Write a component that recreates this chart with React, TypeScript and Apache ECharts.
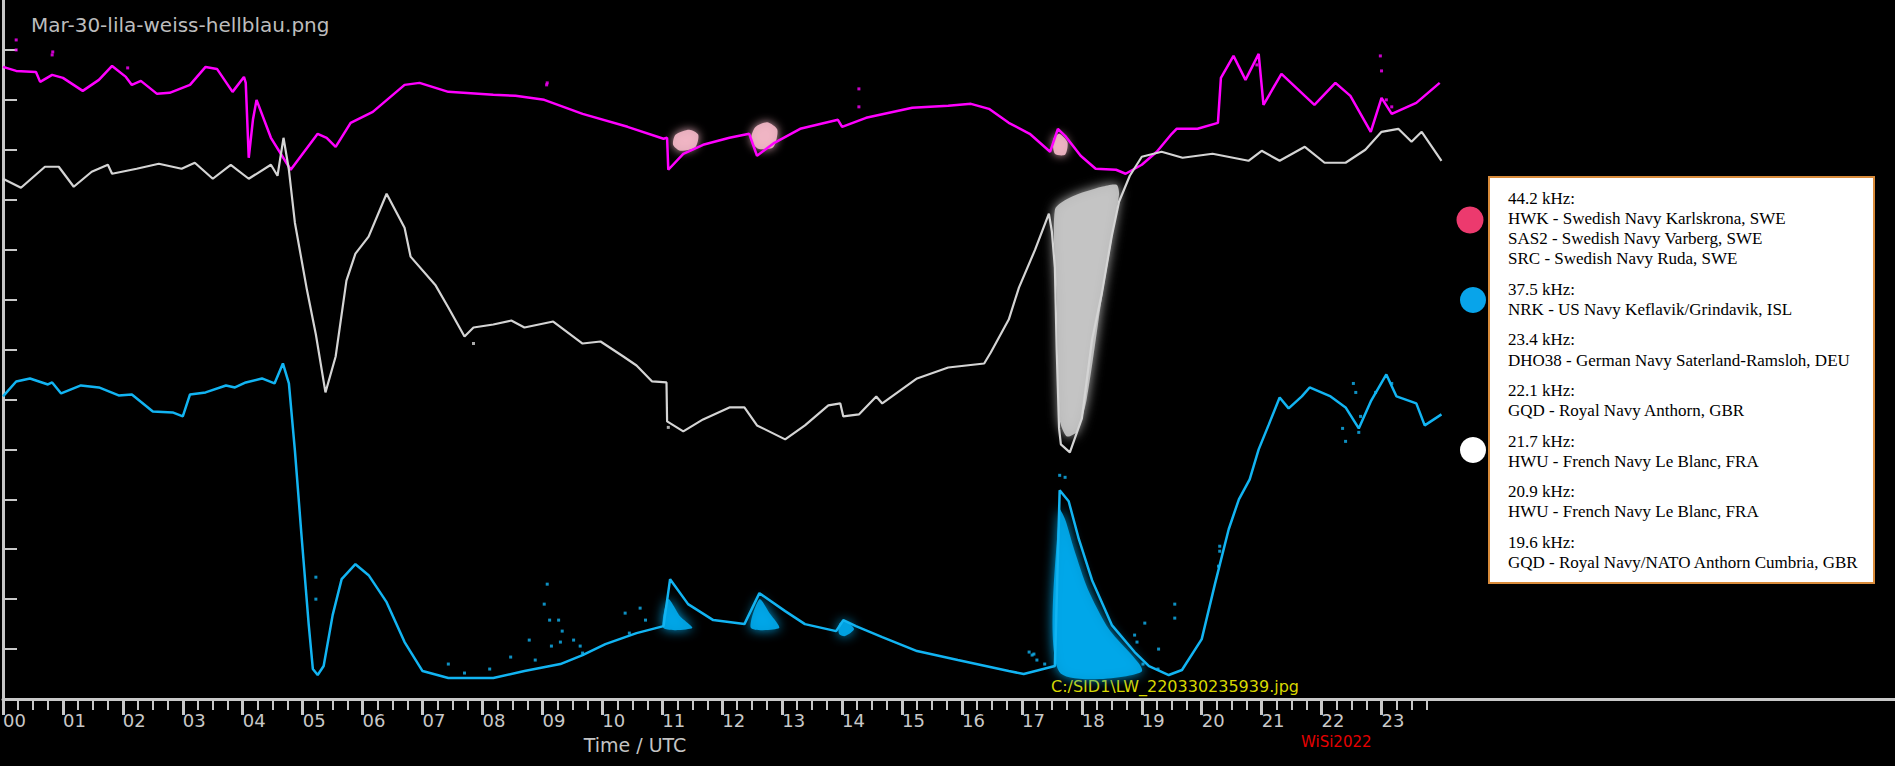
import React, { useEffect, useRef } from 'react';
import * as echarts from 'echarts';

// hour tick labels on the time axis
const hourLabels = ['00', '01', '02', '03', '04', '05', '06', '07', '08', '09', '10', '11',
  '12', '13', '14', '15', '16', '17', '18', '19', '20', '21', '22', '23'];
// unlabelled signal ticks on the left axis
const signalTicks = [1, 2, 3, 4, 5, 6, 7, 8, 9, 10, 11, 12, 13];

// 44.2 kHz trace (magenta) [hour UTC, signal]
const magentaTrace = [
  [0.00, 12.66], [0.22, 12.58], [0.55, 12.56], [0.62, 12.36], [0.82, 12.50], [1.00, 12.44],
  [1.33, 12.18], [1.60, 12.40], [1.82, 12.68], [2.05, 12.46], [2.15, 12.30], [2.30, 12.38],
  [2.57, 12.12], [2.78, 12.14], [3.12, 12.30], [3.38, 12.66], [3.57, 12.62], [3.83, 12.16],
  [4.02, 12.46], [4.05, 12.34], [4.10, 10.84], [4.17, 11.60], [4.23, 12.00], [4.47, 11.24],
  [4.80, 10.60], [5.25, 11.32], [5.40, 11.24], [5.55, 11.06], [5.80, 11.54], [6.17, 11.76],
  [6.70, 12.30], [6.95, 12.34], [7.43, 12.16], [8.18, 12.10], [8.55, 12.08], [9.03, 12.00],
  [9.67, 11.72], [10.42, 11.46], [11.02, 11.22], [11.08, 11.24], [11.10, 10.60], [11.35, 10.92],
  [11.68, 11.10], [12.12, 11.24], [12.45, 11.32], [12.58, 10.88], [12.87, 11.14], [13.30, 11.42],
  [13.93, 11.60], [14.00, 11.46], [14.40, 11.64], [15.17, 11.84], [15.77, 11.88], [16.15, 11.92],
  [16.45, 11.82], [16.78, 11.54], [17.13, 11.32], [17.47, 10.96], [17.60, 11.42], [17.72, 11.28],
  [17.98, 10.88], [18.23, 10.62], [18.57, 10.60], [18.73, 10.52], [19.00, 10.70], [19.25, 10.96],
  [19.50, 11.32], [19.58, 11.42], [19.93, 11.42], [20.27, 11.54], [20.32, 12.44], [20.53, 12.88],
  [20.73, 12.40], [20.95, 12.92], [21.03, 11.90], [21.33, 12.52], [21.88, 11.90], [22.23, 12.34],
  [22.48, 12.08], [22.82, 11.36], [23.00, 12.04], [23.17, 11.72], [23.58, 11.94], [23.97, 12.34],
];
const magentaOutliers = [
  [0.22, 13.2], [0.22, 13.0], [0.83, 12.96], [0.82, 12.9], [2.08, 12.64], [9.07, 12.3],
  [9.08, 12.34], [14.28, 12.22], [14.28, 11.86], [20.92, 12.7], [22.98, 12.88], [23.0, 12.58],
  [23.08, 12.0], [23.17, 11.86],
];

// 21.7 kHz trace (white / grey)
const grayTrace = [
  [0.00, 10.42], [0.30, 10.24], [0.70, 10.66], [0.93, 10.66], [1.18, 10.26], [1.48, 10.56],
  [1.75, 10.70], [1.82, 10.52], [2.23, 10.62], [2.60, 10.72], [2.98, 10.62], [3.20, 10.74],
  [3.50, 10.42], [3.80, 10.70], [4.10, 10.42], [4.47, 10.70], [4.58, 10.48], [4.68, 11.24],
  [4.77, 10.60], [4.87, 9.54], [5.07, 8.20], [5.22, 7.30], [5.38, 6.14], [5.55, 6.86],
  [5.73, 8.38], [5.88, 8.92], [6.10, 9.26], [6.40, 10.12], [6.70, 9.44], [6.80, 8.86],
  [7.22, 8.28], [7.43, 7.84], [7.70, 7.26], [7.85, 7.44], [8.18, 7.50], [8.48, 7.58],
  [8.70, 7.44], [9.18, 7.56], [9.67, 7.12], [9.97, 7.16], [10.35, 6.86], [10.57, 6.68],
  [10.83, 6.36], [11.07, 6.34], [11.08, 5.56], [11.35, 5.36], [11.68, 5.60], [12.12, 5.84],
  [12.37, 5.84], [12.58, 5.48], [13.05, 5.20], [13.38, 5.48], [13.77, 5.88], [13.97, 5.92],
  [14.02, 5.66], [14.28, 5.70], [14.57, 6.06], [14.67, 5.92], [15.25, 6.42], [15.77, 6.64],
  [16.37, 6.72], [16.48, 6.94], [16.78, 7.60], [16.95, 8.24], [17.22, 9.00], [17.45, 9.72],
  [17.50, 9.36], [17.55, 8.64], [17.58, 7.00], [17.62, 5.42], [17.65, 5.10], [17.80, 4.94],
  [18.00, 5.62], [18.17, 7.20], [18.33, 8.10], [18.50, 9.28], [18.62, 9.96], [18.80, 10.48],
  [19.00, 10.86], [19.33, 10.96], [19.68, 10.84], [20.18, 10.92], [20.78, 10.78], [21.00, 10.98],
  [21.30, 10.78], [21.72, 11.06], [22.05, 10.74], [22.40, 10.74], [22.73, 11.00], [23.00, 11.36],
  [23.28, 11.42], [23.50, 11.16], [23.67, 11.36], [24.00, 10.78],
];
const grayOutliers = [[7.85, 7.12], [11.1, 5.44]];

// 37.5 kHz trace (light blue)
const blueTrace = [
  [0.00, 6.06], [0.22, 6.36], [0.45, 6.42], [0.75, 6.30], [0.82, 6.34], [0.97, 6.12],
  [1.30, 6.28], [1.60, 6.24], [1.93, 6.08], [2.15, 6.10], [2.50, 5.76], [2.83, 5.74],
  [3.00, 5.66], [3.12, 6.10], [3.38, 6.14], [3.72, 6.28], [3.87, 6.24], [4.05, 6.34],
  [4.32, 6.42], [4.53, 6.32], [4.67, 6.72], [4.77, 6.32], [4.87, 4.98], [4.98, 3.28],
  [5.10, 1.50], [5.17, 0.60], [5.25, 0.48], [5.35, 0.66], [5.50, 1.68], [5.65, 2.40],
  [5.88, 2.70], [6.10, 2.48], [6.40, 1.94], [6.70, 1.14], [7.00, 0.56], [7.43, 0.42],
  [8.18, 0.42], [8.70, 0.56], [9.30, 0.70], [9.67, 0.88], [10.05, 1.10], [10.57, 1.32],
  [11.02, 1.46], [11.13, 2.40], [11.43, 1.90], [11.85, 1.58], [12.37, 1.50], [12.62, 2.12],
  [13.05, 1.76], [13.38, 1.50], [13.90, 1.36], [14.02, 1.58], [14.23, 1.46], [14.67, 1.24],
  [15.25, 0.96], [15.93, 0.78], [16.78, 0.56], [17.03, 0.50], [17.55, 0.66], [17.63, 4.18],
  [17.78, 3.96], [17.95, 3.20], [18.17, 2.38], [18.50, 1.48], [18.88, 0.94], [19.12, 0.66],
  [19.45, 0.48], [19.67, 0.58], [20.00, 1.20], [20.22, 2.30], [20.45, 3.40], [20.62, 4.00],
  [20.80, 4.40], [20.95, 5.00], [21.12, 5.50], [21.30, 6.04], [21.45, 5.82], [21.67, 6.06],
  [21.80, 6.24], [22.15, 6.06], [22.40, 5.84], [22.62, 5.42], [22.82, 5.96], [23.08, 6.50],
  [23.25, 6.06], [23.58, 5.92], [23.72, 5.48], [24.00, 5.70],
];
const blueOutliers = [
  [5.22, 2.44], [5.22, 2.0], [7.43, 0.7], [7.7, 0.52], [8.12, 0.6], [8.47, 0.84], [8.78, 1.18],
  [8.88, 0.78], [9.03, 1.9], [9.08, 2.3], [9.12, 1.58], [9.15, 1.06], [9.27, 1.58], [9.33, 1.36],
  [9.3, 1.14], [9.52, 1.18], [9.63, 1.06], [9.67, 0.92], [10.38, 1.72], [10.63, 1.82],
  [10.72, 1.58], [10.45, 1.32], [17.12, 0.94], [17.17, 0.88], [17.2, 0.9], [17.25, 0.78],
  [17.38, 0.7], [17.63, 4.48], [17.72, 4.44], [18.88, 1.28], [18.92, 1.14], [19.02, 0.7],
  [19.05, 1.52], [19.27, 0.6], [19.28, 1.0], [19.55, 1.9], [19.55, 1.62], [20.3, 3.06],
  [20.3, 2.96], [20.28, 2.66], [22.35, 5.42], [22.4, 5.16], [22.53, 6.32], [22.57, 6.14],
  [22.62, 5.34], [22.65, 5.66], [22.9, 6.14], [23.17, 6.32],
];

// hand-painted flare marks, outlines in [hour, signal]
const pinkBlobs = [
  [[11.18, 11.1], [11.22, 11.3], [11.45, 11.4], [11.6, 11.3], [11.55, 11.05], [11.3, 10.98]],
  [[12.48, 11.2], [12.55, 11.45], [12.75, 11.55], [12.92, 11.4], [12.85, 11.05], [12.6, 11.02]],
  [[17.52, 11.2], [17.62, 11.32], [17.76, 11.15], [17.72, 10.9], [17.55, 10.92]],
];
const grayBlobs = [
  [[17.55, 9.8], [17.83, 10.06], [18.33, 10.26], [18.58, 10.3], [18.62, 10.1], [18.33, 8.0],
    [18.08, 6.0], [17.92, 5.36], [17.75, 5.26], [17.63, 5.6], [17.58, 8.0]],
];
const blueBlobs = [
  [[11.1, 2.0], [11.3, 1.65], [11.5, 1.42], [11.02, 1.42]],
  [[12.62, 2.0], [12.8, 1.7], [12.95, 1.42], [12.48, 1.42]],
  [[13.95, 1.5], [14.05, 1.56], [14.2, 1.4], [14.05, 1.26], [13.95, 1.3]],
  [[17.62, 3.8], [17.72, 3.6], [17.87, 3.0], [18.1, 2.2], [18.45, 1.4], [19.0, 0.55], [17.62, 0.55]],
];

// station list in the legend box
const legendGroups = [
  ['44.2 kHz:', 'HWK - Swedish Navy Karlskrona, SWE', 'SAS2 - Swedish Navy Varberg, SWE', 'SRC - Swedish Navy Ruda, SWE'],
  ['37.5 kHz:', 'NRK - US Navy Keflavik/Grindavik, ISL'],
  ['23.4 kHz:', 'DHO38 - German Navy Saterland-Ramsloh, DEU'],
  ['22.1 kHz:', 'GQD - Royal Navy Anthorn, GBR'],
  ['21.7 kHz:', 'HWU - French Navy Le Blanc, FRA'],
  ['20.9 kHz:', 'HWU - French Navy Le Blanc, FRA'],
  ['19.6 kHz:', 'GQD - Royal Navy/NATO Anthorn Cumbria, GBR'],
];

const AXIS_GREY = '#c8c8c8';
const PX_PER_HOUR = 60;

const blobSeries = (blobs: number[][][], color: string, blur: number) => ({
  type: 'custom',
  silent: true,
  z: 1,
  data: blobs.map(b => b[0]),
  renderItem: (params: any, api: any) => {
    const pts = blobs[params.dataIndex].map(p => api.coord(p));
    return {
      type: 'polygon',
      shape: { points: pts, smooth: 0.25 },
      style: { fill: color, opacity: 0.92, shadowBlur: blur, shadowColor: color },
    };
  },
});

const label = (text: string, x: number, y: number, fill: string, fontSize: number, align = 'left') => ({
  type: 'text',
  x,
  y,
  style: {
    text,
    fill,
    fontSize,
    fontFamily: 'DejaVu Sans',
    lineHeight: 14,
    textAlign: align,
    align,
    textVerticalAlign: 'middle',
    verticalAlign: 'middle',
  },
});

const App: React.FC = () => {
  const chartRef = useRef<HTMLDivElement>(null);

  useEffect(() => {
    if (!chartRef.current) return;
    const chart = echarts.init(chartRef.current, null, { renderer: 'svg' });

    const width = 1895;
    const gridLeft = 1;
    const xMax = (width - gridLeft) / PX_PER_HOUR;
    const hourTicks = hourLabels.map((_, i) => i);
    const quarterTicks = hourTicks.flatMap(h => [h + 0.25, h + 0.5, h + 0.75]);

    // legend texts
    const legendGraphics: any[] = [];
    let y = 198;
    legendGroups.forEach((group, gi) => {
      if (gi > 0) y += 10;
      group.forEach(line => {
        legendGraphics.push({
          type: 'text',
          x: 1508,
          y,
          z: 20,
          style: {
            text: line,
            fill: '#000',
            fontSize: 17,
            fontFamily: 'Liberation Serif',
            lineHeight: 18,
            textVerticalAlign: 'middle',
            verticalAlign: 'middle',
          },
        });
        y += 20.3;
      });
    });

    const option: any = {
      animation: false,
      backgroundColor: '#000',
      grid: { left: gridLeft, top: 0, width: width - gridLeft, height: 699 },
      xAxis: [
        {
          type: 'value',
          min: 0,
          max: xMax,
          position: 'bottom',
          axisLine: { show: true, onZero: false, lineStyle: { color: AXIS_GREY, width: 3 } },
          axisTick: { show: true, customValues: hourTicks, length: 16, lineStyle: { color: AXIS_GREY, width: 3 } },
          axisLabel: {
            show: true,
            customValues: hourTicks,
            formatter: (v: number) => hourLabels[Math.round(v)] ?? '',
            align: 'left',
            margin: 14,
            lineHeight: 15,
            color: AXIS_GREY,
            fontSize: 18,
            fontFamily: 'DejaVu Sans',
          },
          splitLine: { show: false },
        },
        {
          type: 'value',
          min: 0,
          max: xMax,
          position: 'bottom',
          axisLine: { show: false },
          axisTick: { show: true, customValues: quarterTicks, length: 11, lineStyle: { color: AXIS_GREY, width: 2 } },
          axisLabel: { show: false },
          splitLine: { show: false },
        },
      ],
      yAxis: {
        type: 'value',
        min: 0,
        max: 14,
        axisLine: { show: true, onZero: false, lineStyle: { color: AXIS_GREY, width: 3 } },
        axisTick: { show: true, inside: true, customValues: signalTicks, length: 14, lineStyle: { color: AXIS_GREY, width: 2 } },
        axisLabel: { show: false },
        splitLine: { show: false },
      },
      series: [
        blobSeries(pinkBlobs, '#f2b6c6', 10),
        blobSeries(grayBlobs, '#c6c6c6', 12),
        blobSeries(blueBlobs, '#06a8ea', 12),
        {
          type: 'line', data: magentaTrace, showSymbol: false, z: 3,
          lineStyle: { color: '#ff00ff', width: 2.5 },
        },
        {
          type: 'line', data: grayTrace, showSymbol: false, z: 3,
          lineStyle: { color: '#d4d4d4', width: 2.2 },
        },
        {
          type: 'line', data: blueTrace, showSymbol: false, z: 3,
          lineStyle: { color: '#12b4f2', width: 2.5 },
        },
        { type: 'scatter', data: magentaOutliers, symbol: 'rect', symbolSize: 3, itemStyle: { color: '#ff00ff' }, z: 3 },
        { type: 'scatter', data: grayOutliers, symbol: 'rect', symbolSize: 3, itemStyle: { color: '#d4d4d4' }, z: 3 },
        { type: 'scatter', data: blueOutliers, symbol: 'rect', symbolSize: 3, itemStyle: { color: '#12b4f2' }, z: 3 },
      ],
      graphic: [
        label('Mar-30-lila-weiss-hellblau.png', 31, 25, '#bdbdbd', 20),
        label('Time / UTC', 635, 745, '#c4c4c4', 19, 'center'),
        label('WiSi2022', 1301, 742, '#e60000', 15),
        label('C:/SID1\\LW_220330235939.jpg', 1051, 686, '#d8d800', 16),
        {
          type: 'rect', z: 10,
          shape: { x: 1489, y: 177, width: 385, height: 406 },
          style: { fill: '#fff', stroke: '#d98b3a', lineWidth: 2 },
        },
        { type: 'circle', shape: { cx: 1470, cy: 220, r: 13.5 }, style: { fill: '#ec3a6e' } },
        { type: 'circle', shape: { cx: 1473, cy: 300, r: 13 }, style: { fill: '#08a4ea' } },
        { type: 'circle', shape: { cx: 1473, cy: 450, r: 13 }, style: { fill: '#ffffff' } },
        ...legendGraphics,
      ],
    };

    chart.setOption(option);
    return () => chart.dispose();
  }, []);

  return (
    <div
      ref={chartRef}
      style={{ position: 'fixed', left: 0, top: 0, width: '1895px', height: '766px', background: '#000' }}
    />
  );
};

export default App;
